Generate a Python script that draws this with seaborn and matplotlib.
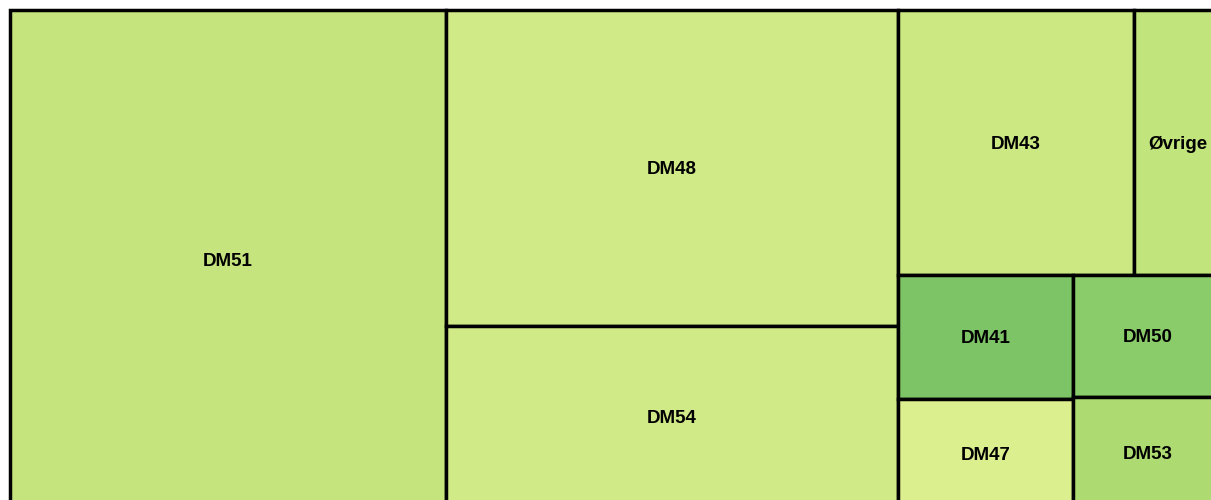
import matplotlib
matplotlib.use("Agg")
import matplotlib.pyplot as plt
from matplotlib.patches import Rectangle
import seaborn as sns

# andel i procent (aflæst fra arealerne)
labels = ["DM51", "DM48", "DM54", "DM43", "Øvrige", "DM41", "DM47", "DM50", "DM53"]
shares = [35.97, 23.66, 13.63, 10.36, 3.86, 3.60, 3.16, 3.01, 2.74]

# farver pr. felt
palette = {
    "DM51": "#c5e47e", "DM48": "#d0ea87", "DM54": "#d0ea87", "DM43": "#cbe883",
    "Øvrige": "#c2e47c", "DM41": "#7cc465", "DM47": "#dcef8f", "DM50": "#8bcc6a",
    "DM53": "#addb71",
}

sns.set_style("white")
plt.rcParams['font.family'] = ['Liberation Sans', 'DejaVu Sans']


def ratio(a, tot, side):
    t = tot / side
    l = a / t
    return max(t / l, l / t)


def squarify(vals, x, y, w, h):
    total = sum(vals)
    areas = [v / total * w * h for v in vals]
    rects = []
    i = 0
    while i < len(areas):
        vertical = w >= h
        side = h if vertical else w
        row = [areas[i]]
        j = i + 1
        while j < len(areas):
            old = ratio(row[-1], sum(row), side)
            new = ratio(row[-1], sum(row) + areas[j], side)
            if new > old:
                break
            row.append(areas[j])
            j += 1
        t = sum(row) / side
        pos = 0
        for a in row:
            l = a / t
            if vertical:
                rects.append((x, y + pos, t, l))
            else:
                rects.append((x + pos, y, l, t))
            pos += l
        if vertical:
            x += t; w -= t
        else:
            y += t; h -= t
        i = j
    return rects


W, H = 1212, 498
fig = plt.figure(figsize=(12.11, 5.0), dpi=100)
ax = fig.add_axes([10 / 1211, -8 / 500, W / 1211, H / 500])
ax.set_xlim(0, W)
ax.set_ylim(H, 0)
ax.axis("off")

for lab, (rx, ry, rw, rh) in zip(labels, squarify(shares, 0, 0, W, H)):
    ax.add_patch(Rectangle((rx, ry), rw, rh, facecolor=palette[lab],
                           edgecolor="black", linewidth=2.5, clip_on=False))
    ax.text(rx + rw / 2, ry + rh / 2 + 2, lab, ha="center", va="center",
            fontsize=13.5, fontweight="bold", color="black")

fig.savefig("out.png", dpi=100, facecolor="white")
